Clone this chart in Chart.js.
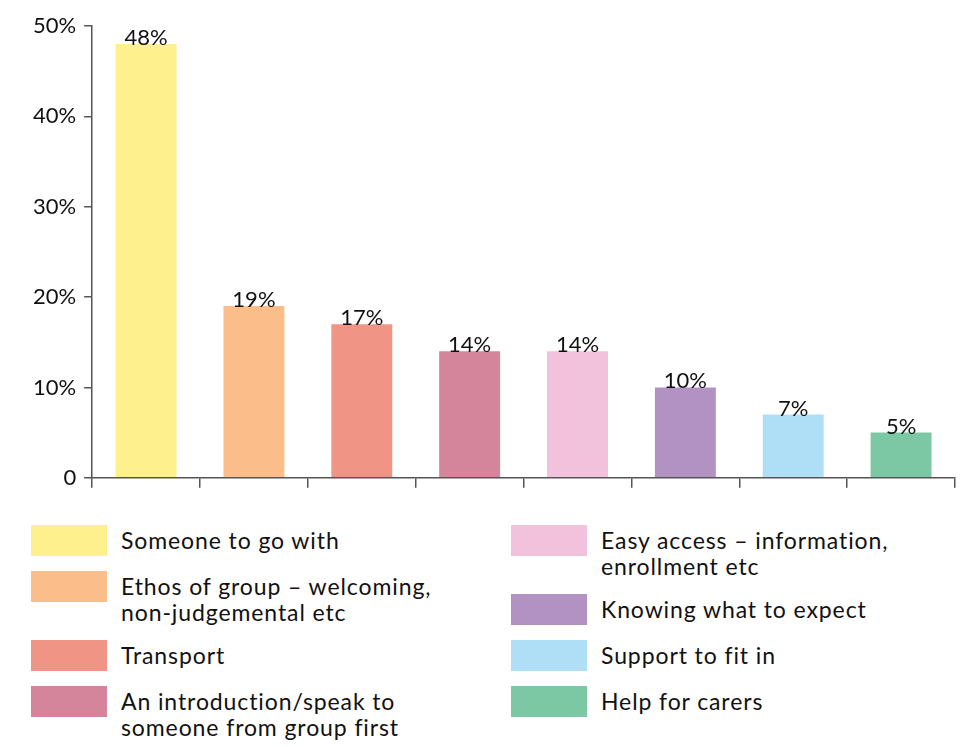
<!DOCTYPE html>
<html>
<head>
<meta charset="utf-8">
<script src="https://cdn.jsdelivr.net/npm/chart.js@4"></script>
<style>
  body { margin: 0; background: #fff; font-family: Lato, "Open Sans", sans-serif; }
  #wrap { position: relative; width: 962px; height: 747px; }
  #box { position: absolute; left: 0; top: 0; width: 962px; height: 499px; }
  .col { position: absolute; top: 525px; display: flex; flex-direction: column; gap: 15px; }
  .item { display: flex; align-items: flex-start; }
  .sw { width: 76px; height: 31px; flex: none; }
  .txt { margin-left: 14px; font-size: 23px; letter-spacing: 0.9px; line-height: 26px; color: #111; padding-top: 2px; white-space: nowrap; }
</style>
</head>
<body>
<div id="wrap">
  <div id="box"><canvas id="grafico"></canvas></div>
  <div class="col" id="colA" style="left:31px"></div>
  <div class="col" id="colB" style="left:511px"></div>
</div>
<script>
// datos del grafico
const categorias = [
    ['Someone to go with'],
    ['Ethos of group \u2013 welcoming,', 'non-judgemental etc'],
    ['Transport'],
    ['An introduction/speak to', 'someone from group first'],
    ['Easy access \u2013 information,', 'enrollment etc'],
    ['Knowing what to expect'],
    ['Support to fit in'],
    ['Help for carers']
];
const valores = [48, 19, 17, 14, 14, 10, 7, 5];
const colores = ['#FEF08C', '#FBBE8A', '#F09585', '#D4859C', '#F2C1DC', '#B192C3', '#AEDFF7', '#7DC8A4'];
const ticksY = [0, 10, 20, 30, 40, 50];

document.addEventListener("DOMContentLoaded", function () {

    // LEYENDA (dos columnas)
    categorias.forEach(function (lineas, i) {
        const item = document.createElement('div');
        item.className = 'item';
        item.innerHTML = '<div class="sw" style="background:' + colores[i] + '"></div>' +
            '<div class="txt">' + lineas.join('<br>') + '</div>';
        document.getElementById(i < 4 ? 'colA' : 'colB').appendChild(item);
    });

    // etiquetas encima de las barras
    const etiquetas = {
        id: 'etiquetas',
        afterDatasetsDraw(chart) {
            const ctx = chart.ctx;
            const meta = chart.getDatasetMeta(0);
            ctx.save();
            ctx.font = '22px Lato, "Open Sans", sans-serif';
            ctx.fillStyle = '#111';
            ctx.textAlign = 'center';
            ctx.textBaseline = 'alphabetic';
            meta.data.forEach(function (bar, i) {
                ctx.fillText(valores[i] + '%', bar.x, bar.y + 1);
            });
            ctx.restore();
        }
    };

    const grafico = document.getElementById('grafico');

    new Chart(grafico, {
        type: 'bar',
        data: {
            labels: categorias.map(l => l.join(' ')),
            datasets: [{
                data: valores,
                backgroundColor: colores,
                borderWidth: 0,
                barPercentage: 0.565,
                categoryPercentage: 1
            }]
        },
        options: {
            responsive: true,
            maintainAspectRatio: false,
            animation: false,
            layout: { padding: { top: 26, right: 7, left: 25, bottom: 0 } },
            plugins: {
                legend: { display: false },
                tooltip: { enabled: false }
            },
            scales: {
                x: {
                    offset: true,
                    grid: {
                        offset: true,
                        drawOnChartArea: false,
                        drawTicks: true,
                        tickLength: 10,
                        color: '#555',
                        lineWidth: 1.5
                    },
                    border: { color: '#555', width: 1.5 },
                    ticks: { display: false }
                },
                y: {
                    min: 0,
                    max: 50,
                    afterBuildTicks: function (axis) {
                        axis.ticks = ticksY.map(v => ({ value: v }));
                    },
                    grid: {
                        drawOnChartArea: false,
                        tickLength: 8,
                        color: '#555',
                        lineWidth: 1.5
                    },
                    border: { color: '#555', width: 1.5 },
                    ticks: {
                        padding: 8,
                        color: '#111',
                        font: { size: 22, family: 'Lato, "Open Sans", sans-serif' },
                        callback: v => v === 0 ? '0' : v + '%'
                    }
                }
            }
        },
        plugins: [etiquetas]
    });

});
</script>
</body>
</html>
